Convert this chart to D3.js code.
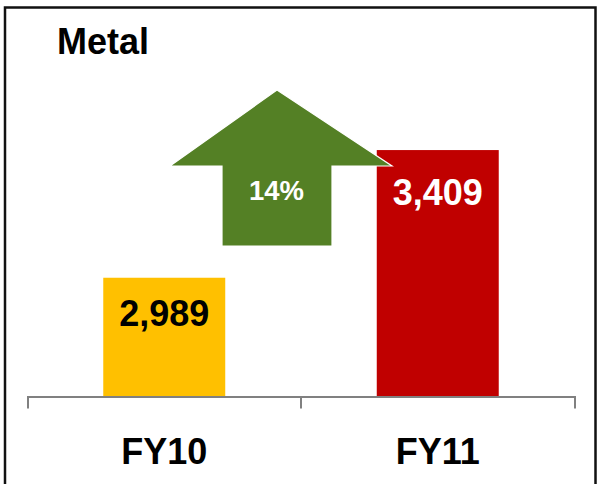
<!DOCTYPE html>
<html>
<head>
<meta charset="utf-8">
<script src="https://cdn.jsdelivr.net/npm/d3@7"></script>
<style>
  html, body { margin: 0; padding: 0; background: #fff; }
  svg { display: block; }
  text { font-family: "Liberation Sans", Arial, sans-serif; font-weight: bold; }
</style>
</head>
<body>
<svg id="chart" width="597" height="484"></svg>
<script>
// Metal volumes, FY10 vs FY11
const categories = ["FY10", "FY11"];
const values = [2989, 3409];
const valueLabels = ["2,989", "3,409"];
const growthLabel = "14%";
const title = "Metal";

const barColors = ["#FFC000", "#C00000"];
const labelColors = ["#000000", "#FFFFFF"];
const labelOffsets = [48.5, 54.5];

const svg = d3.select("#chart");
const W = 597, H = 484;

// frame
svg.append("rect")
  .attr("x", 5).attr("y", 7.5)
  .attr("width", 590.5).attr("height", 520)
  .attr("fill", "#fff")
  .attr("stroke", "#111").attr("stroke-width", 2.5);

const x = d3.scaleBand().domain(categories).range([27.5, 574.5]).padding(0);
const y = d3.scaleLinear().domain([2600, 3600]).range([396, 92]);
const barFrac = 0.446;
const bw = x.bandwidth() * barFrac;

// bars
svg.append("g").selectAll("rect")
  .data(values)
  .join("rect")
  .attr("x", (d, i) => x(categories[i]) + (x.bandwidth() - bw) / 2)
  .attr("y", d => y(d))
  .attr("width", bw)
  .attr("height", d => y.range()[0] - y(d))
  .attr("fill", (d, i) => barColors[i]);

// growth arrow
const arrow = [
  [277, 90], [392, 166], [332, 166], [332, 246],
  [222, 246], [222, 166], [170, 166]
];
svg.append("path")
  .attr("d", d3.line()(arrow) + "Z")
  .attr("fill", "#548025")
  .attr("stroke", "#fff").attr("stroke-width", 1.2);

svg.append("text")
  .attr("x", 276.5).attr("y", 199.5)
  .attr("text-anchor", "middle")
  .attr("font-size", 27.5)
  .attr("fill", "#fff")
  .text(growthLabel);

// value labels
svg.append("g").selectAll("text")
  .data(values)
  .join("text")
  .attr("x", (d, i) => x(categories[i]) + x.bandwidth() / 2)
  .attr("y", (d, i) => y(d) + labelOffsets[i])
  .attr("text-anchor", "middle")
  .attr("font-size", 36)
  .attr("fill", (d, i) => labelColors[i])
  .text((d, i) => valueLabels[i]);

// category axis
const axis = svg.append("g")
  .attr("transform", "translate(0,396.5)")
  .call(d3.axisBottom(x).tickSize(0).tickSizeOuter(12));
axis.select(".domain").attr("stroke", "#808080").attr("stroke-width", 2);
axis.selectAll(".tick text")
  .attr("y", 67.5).attr("dy", 0)
  .attr("font-size", 36)
  .attr("font-family", "\"Liberation Sans\", Arial, sans-serif")
  .attr("font-weight", "bold")
  .attr("fill", "#000");
// divider tick between categories
axis.selectAll(".divider")
  .data(categories.slice(1))
  .join("line")
  .attr("class", "divider")
  .attr("x1", d => x(d)).attr("x2", d => x(d))
  .attr("y1", 0).attr("y2", 12)
  .attr("stroke", "#808080").attr("stroke-width", 2);

// title
svg.append("text")
  .attr("x", 57).attr("y", 53.5)
  .attr("font-size", 36)
  .attr("fill", "#000")
  .text(title);
</script>
</body>
</html>
